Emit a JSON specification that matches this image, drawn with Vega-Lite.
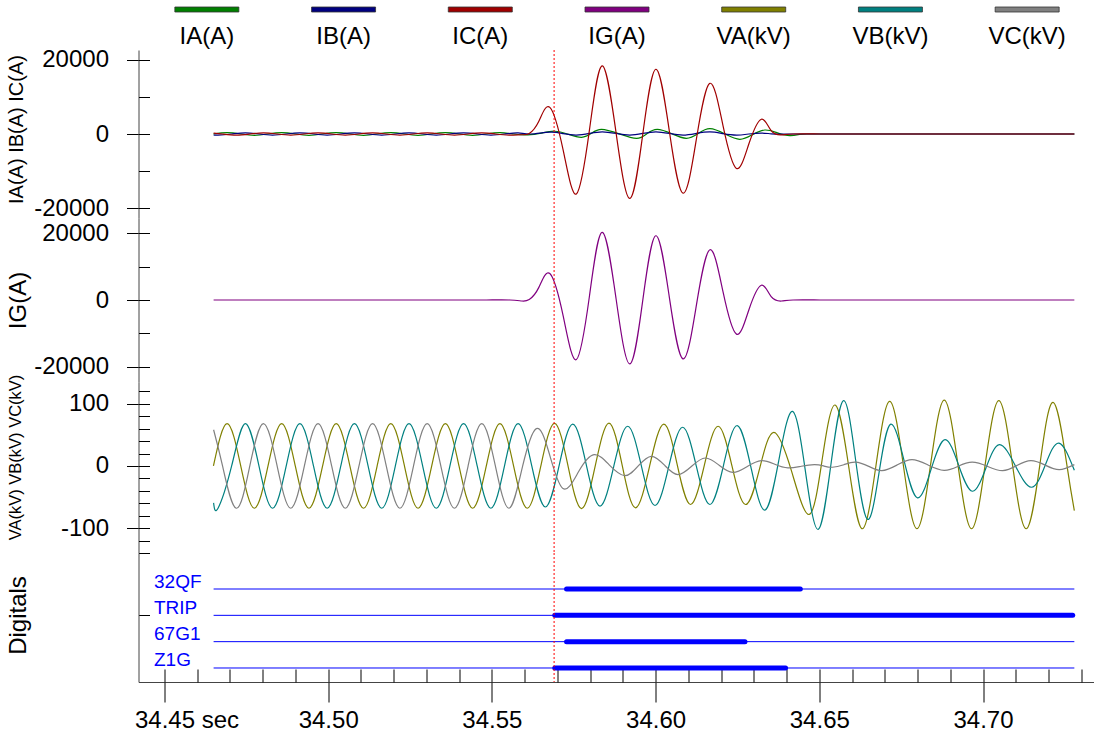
{
"$schema": "https://vega.github.io/schema/vega-lite/v6.json",
"padding": {"left": 6.5, "top": 0, "right": 0, "bottom": 0},
"background": "white",
"bounds": "flush",
"spacing": 0,
"config": {
 "font": "Liberation Sans",
 "view": {"stroke": null},
 "axis": {"grid": false, "labelFontSize": 24, "labelColor": "#000000", "titleColor": "#000000", "titleFontWeight": "normal", "domainColor": "#444444", "domainWidth": 1, "tickColor": "#000000", "tickWidth": 1, "labelOverlap": false, "labelFlush": false}
},
"datasets": {
 "legend": [
  {"s":"IA","label":"IA(A)"},{"s":"IB","label":"IB(A)"},{"s":"IC","label":"IC(A)"},{"s":"IG","label":"IG(A)"},{"s":"VA","label":"VA(kV)"},{"s":"VB","label":"VB(kV)"},{"s":"VC","label":"VC(kV)"}
 ],
 "cursor": [{"t": 34.569}],
 "dig": [
  {"sig":"32QF","first":34.465,"last":34.7279,"on":34.5728,"off":34.6442},
  {"sig":"TRIP","first":34.465,"last":34.7279,"on":34.5692,"off":34.7274},
  {"sig":"67G1","first":34.465,"last":34.7279,"on":34.5728,"off":34.6273},
  {"sig":"Z1G","first":34.465,"last":34.7279,"on":34.5692,"off":34.6397}
 ],
 "cur": [
  {"s":"IA","t":34.46495,"v":0},{"s":"IA","t":34.46912,"v":350},{"s":"IA","t":34.47329,"v":0},{"s":"IA","t":34.47745,"v":-350},{"s":"IA","t":34.48162,"v":0},{"s":"IA","t":34.48579,"v":350},{"s":"IA","t":34.48995,"v":0},{"s":"IA","t":34.49412,"v":-350},{"s":"IA","t":34.49829,"v":0},{"s":"IA","t":34.50245,"v":350},{"s":"IA","t":34.50662,"v":0},{"s":"IA","t":34.51079,"v":-350},{"s":"IA","t":34.51495,"v":0},{"s":"IA","t":34.51912,"v":350},{"s":"IA","t":34.52329,"v":0},{"s":"IA","t":34.52745,"v":-350},{"s":"IA","t":34.53162,"v":0},{"s":"IA","t":34.53579,"v":350},{"s":"IA","t":34.53995,"v":0},{"s":"IA","t":34.54412,"v":-350},{"s":"IA","t":34.54829,"v":0},{"s":"IA","t":34.55245,"v":350},{"s":"IA","t":34.55662,"v":0},{"s":"IA","t":34.561,"v":-250},{"s":"IA","t":34.5651,"v":250},{"s":"IA","t":34.5692,"v":750},{"s":"IA","t":34.5733,"v":-75},{"s":"IA","t":34.5774,"v":-900},{"s":"IA","t":34.5804,"v":185},{"s":"IA","t":34.5835,"v":1270},{"s":"IA","t":34.5889,"v":50},{"s":"IA","t":34.5942,"v":-1170},{"s":"IA","t":34.5973,"v":50},{"s":"IA","t":34.6005,"v":1270},{"s":"IA","t":34.605,"v":50},{"s":"IA","t":34.6094,"v":-1170},{"s":"IA","t":34.613,"v":135},{"s":"IA","t":34.6166,"v":1440},{"s":"IA","t":34.6212,"v":0},{"s":"IA","t":34.6257,"v":-1440},{"s":"IA","t":34.6296,"v":-180},{"s":"IA","t":34.6334,"v":1080},{"s":"IA","t":34.6372,"v":315},{"s":"IA","t":34.641,"v":-450},{"s":"IA","t":34.644,"v":-100},{"s":"IA","t":34.647,"v":0},{"s":"IA","t":34.6553,"v":0},{"s":"IA","t":34.6637,"v":0},{"s":"IA","t":34.672,"v":0},{"s":"IA","t":34.6803,"v":0},{"s":"IA","t":34.6887,"v":0},{"s":"IA","t":34.697,"v":0},{"s":"IA","t":34.7053,"v":0},{"s":"IA","t":34.7137,"v":0},{"s":"IA","t":34.722,"v":0},{"s":"IA","t":34.7279,"v":0},
  {"s":"IB","t":34.465,"v":-262},{"s":"IB","t":34.46635,"v":-300},{"s":"IB","t":34.47051,"v":0},{"s":"IB","t":34.47468,"v":300},{"s":"IB","t":34.47885,"v":0},{"s":"IB","t":34.48301,"v":-300},{"s":"IB","t":34.48718,"v":0},{"s":"IB","t":34.49135,"v":300},{"s":"IB","t":34.49551,"v":0},{"s":"IB","t":34.49968,"v":-300},{"s":"IB","t":34.50385,"v":0},{"s":"IB","t":34.50801,"v":300},{"s":"IB","t":34.51218,"v":0},{"s":"IB","t":34.51635,"v":-300},{"s":"IB","t":34.52051,"v":0},{"s":"IB","t":34.52468,"v":300},{"s":"IB","t":34.52885,"v":0},{"s":"IB","t":34.53301,"v":-300},{"s":"IB","t":34.53718,"v":0},{"s":"IB","t":34.54135,"v":300},{"s":"IB","t":34.54551,"v":0},{"s":"IB","t":34.54968,"v":-300},{"s":"IB","t":34.55385,"v":0},{"s":"IB","t":34.55801,"v":300},{"s":"IB","t":34.5618,"v":0},{"s":"IB","t":34.5677,"v":500},{"s":"IB","t":34.5718,"v":100},{"s":"IB","t":34.5758,"v":-300},{"s":"IB","t":34.5798,"v":150},{"s":"IB","t":34.5837,"v":600},{"s":"IB","t":34.5879,"v":150},{"s":"IB","t":34.5921,"v":-300},{"s":"IB","t":34.5961,"v":150},{"s":"IB","t":34.6001,"v":600},{"s":"IB","t":34.6042,"v":150},{"s":"IB","t":34.6084,"v":-300},{"s":"IB","t":34.6125,"v":150},{"s":"IB","t":34.6166,"v":550},{"s":"IB","t":34.6206,"v":100},{"s":"IB","t":34.6247,"v":-300},{"s":"IB","t":34.6285,"v":0},{"s":"IB","t":34.6323,"v":250},{"s":"IB","t":34.6353,"v":50},{"s":"IB","t":34.6385,"v":-50},{"s":"IB","t":34.642,"v":0},{"s":"IB","t":34.6503,"v":0},{"s":"IB","t":34.6587,"v":0},{"s":"IB","t":34.667,"v":0},{"s":"IB","t":34.6753,"v":0},{"s":"IB","t":34.6837,"v":0},{"s":"IB","t":34.692,"v":0},{"s":"IB","t":34.7003,"v":0},{"s":"IB","t":34.7087,"v":0},{"s":"IB","t":34.717,"v":0},{"s":"IB","t":34.7279,"v":0},
  {"s":"IC","t":34.465,"v":257},{"s":"IC","t":34.46773,"v":0},{"s":"IC","t":34.4719,"v":-300},{"s":"IC","t":34.47606,"v":0},{"s":"IC","t":34.48023,"v":300},{"s":"IC","t":34.4844,"v":0},{"s":"IC","t":34.48856,"v":-300},{"s":"IC","t":34.49273,"v":0},{"s":"IC","t":34.4969,"v":300},{"s":"IC","t":34.50106,"v":0},{"s":"IC","t":34.50523,"v":-300},{"s":"IC","t":34.5094,"v":0},{"s":"IC","t":34.51356,"v":300},{"s":"IC","t":34.51773,"v":0},{"s":"IC","t":34.5219,"v":-300},{"s":"IC","t":34.52606,"v":0},{"s":"IC","t":34.53023,"v":300},{"s":"IC","t":34.5344,"v":0},{"s":"IC","t":34.53856,"v":-300},{"s":"IC","t":34.54273,"v":0},{"s":"IC","t":34.5469,"v":300},{"s":"IC","t":34.55106,"v":0},{"s":"IC","t":34.55523,"v":-300},{"s":"IC","t":34.5592,"v":-200},{"s":"IC","t":34.5614,"v":150},{"s":"IC","t":34.5643,"v":3400},{"s":"IC","t":34.5677,"v":7200},{"s":"IC","t":34.5718,"v":-4500},{"s":"IC","t":34.5758,"v":-16200},{"s":"IC","t":34.5798,"v":1100},{"s":"IC","t":34.5837,"v":18400},{"s":"IC","t":34.5879,"v":500},{"s":"IC","t":34.5921,"v":-17400},{"s":"IC","t":34.5961,"v":50},{"s":"IC","t":34.6001,"v":17500},{"s":"IC","t":34.6042,"v":750},{"s":"IC","t":34.6084,"v":-16000},{"s":"IC","t":34.6125,"v":-1150},{"s":"IC","t":34.6166,"v":13700},{"s":"IC","t":34.6206,"v":2200},{"s":"IC","t":34.6247,"v":-9300},{"s":"IC","t":34.6285,"v":-2650},{"s":"IC","t":34.6323,"v":4000},{"s":"IC","t":34.6353,"v":900},{"s":"IC","t":34.6385,"v":-250},{"s":"IC","t":34.642,"v":0},{"s":"IC","t":34.6503,"v":0},{"s":"IC","t":34.6587,"v":0},{"s":"IC","t":34.667,"v":0},{"s":"IC","t":34.6753,"v":0},{"s":"IC","t":34.6837,"v":0},{"s":"IC","t":34.692,"v":0},{"s":"IC","t":34.7003,"v":0},{"s":"IC","t":34.7087,"v":0},{"s":"IC","t":34.717,"v":0},{"s":"IC","t":34.7279,"v":0}
 ],
 "ig": [
  {"s":"IG","t":34.465,"v":0},{"s":"IG","t":34.4733,"v":0},{"s":"IG","t":34.4817,"v":0},{"s":"IG","t":34.49,"v":0},{"s":"IG","t":34.4983,"v":0},{"s":"IG","t":34.5067,"v":0},{"s":"IG","t":34.515,"v":0},{"s":"IG","t":34.5233,"v":0},{"s":"IG","t":34.5317,"v":0},{"s":"IG","t":34.54,"v":0},{"s":"IG","t":34.5483,"v":0},{"s":"IG","t":34.5555,"v":0},{"s":"IG","t":34.5592,"v":-300},{"s":"IG","t":34.5614,"v":150},{"s":"IG","t":34.5643,"v":3700},{"s":"IG","t":34.5677,"v":7900},{"s":"IG","t":34.5718,"v":-4900},{"s":"IG","t":34.5758,"v":-17800},{"s":"IG","t":34.5798,"v":1200},{"s":"IG","t":34.5837,"v":20200},{"s":"IG","t":34.5879,"v":550},{"s":"IG","t":34.5921,"v":-19100},{"s":"IG","t":34.5961,"v":50},{"s":"IG","t":34.6001,"v":19200},{"s":"IG","t":34.6042,"v":800},{"s":"IG","t":34.6084,"v":-17600},{"s":"IG","t":34.6125,"v":-1300},{"s":"IG","t":34.6166,"v":15000},{"s":"IG","t":34.6206,"v":2400},{"s":"IG","t":34.6247,"v":-10200},{"s":"IG","t":34.6285,"v":-2900},{"s":"IG","t":34.6323,"v":4400},{"s":"IG","t":34.6353,"v":1000},{"s":"IG","t":34.6385,"v":-300},{"s":"IG","t":34.642,"v":0},{"s":"IG","t":34.6503,"v":0},{"s":"IG","t":34.6587,"v":0},{"s":"IG","t":34.667,"v":0},{"s":"IG","t":34.6753,"v":0},{"s":"IG","t":34.6837,"v":0},{"s":"IG","t":34.692,"v":0},{"s":"IG","t":34.7003,"v":0},{"s":"IG","t":34.7087,"v":0},{"s":"IG","t":34.717,"v":0},{"s":"IG","t":34.7279,"v":0}
 ],
 "volt": [
  {"s":"VA","t":34.46495,"v":0},{"s":"VA","t":34.46912,"v":68},{"s":"VA","t":34.47329,"v":0},{"s":"VA","t":34.47745,"v":-68},{"s":"VA","t":34.48162,"v":0},{"s":"VA","t":34.48579,"v":68},{"s":"VA","t":34.48995,"v":0},{"s":"VA","t":34.49412,"v":-68},{"s":"VA","t":34.49829,"v":0},{"s":"VA","t":34.50245,"v":68},{"s":"VA","t":34.50662,"v":0},{"s":"VA","t":34.51079,"v":-68},{"s":"VA","t":34.51495,"v":0},{"s":"VA","t":34.51912,"v":68},{"s":"VA","t":34.52329,"v":0},{"s":"VA","t":34.52745,"v":-68},{"s":"VA","t":34.53162,"v":0},{"s":"VA","t":34.53579,"v":68},{"s":"VA","t":34.53995,"v":0},{"s":"VA","t":34.54412,"v":-68},{"s":"VA","t":34.54829,"v":0},{"s":"VA","t":34.55245,"v":68},{"s":"VA","t":34.55662,"v":0},{"s":"VA","t":34.56079,"v":-68},{"s":"VA","t":34.56495,"v":0},{"s":"VA","t":34.56912,"v":68.5},{"s":"VA","t":34.57325,"v":0},{"s":"VA","t":34.57737,"v":-68.5},{"s":"VA","t":34.58156,"v":0},{"s":"VA","t":34.58574,"v":69},{"s":"VA","t":34.5898,"v":0.8},{"s":"VA","t":34.59386,"v":-67.4},{"s":"VA","t":34.59818,"v":0},{"s":"VA","t":34.6025,"v":67.3},{"s":"VA","t":34.60658,"v":2.6},{"s":"VA","t":34.61066,"v":-62},{"s":"VA","t":34.61488,"v":1},{"s":"VA","t":34.61909,"v":63.8},{"s":"VA","t":34.62328,"v":1},{"s":"VA","t":34.62746,"v":-62},{"s":"VA","t":34.63178,"v":-4},{"s":"VA","t":34.6361,"v":54},{"s":"VA","t":34.6415,"v":-8},{"s":"VA","t":34.64691,"v":-78},{"s":"VA","t":34.65087,"v":10},{"s":"VA","t":34.65483,"v":98},{"s":"VA","t":34.659,"v":-1.5},{"s":"VA","t":34.66316,"v":-101},{"s":"VA","t":34.66733,"v":1.5},{"s":"VA","t":34.6715,"v":104},{"s":"VA","t":34.67566,"v":1.5},{"s":"VA","t":34.67983,"v":-101},{"s":"VA","t":34.684,"v":2.5},{"s":"VA","t":34.68816,"v":106},{"s":"VA","t":34.69233,"v":2.5},{"s":"VA","t":34.6965,"v":-101},{"s":"VA","t":34.70066,"v":2},{"s":"VA","t":34.70483,"v":105},{"s":"VA","t":34.709,"v":2},{"s":"VA","t":34.71316,"v":-101},{"s":"VA","t":34.71733,"v":0.5},{"s":"VA","t":34.7215,"v":102},{"s":"VA","t":34.72566,"v":0},{"s":"VA","t":34.7279,"v":-72},
  {"s":"VB","t":34.465,"v":-59.5},{"s":"VB","t":34.46635,"v":-68},{"s":"VB","t":34.47051,"v":0},{"s":"VB","t":34.47468,"v":68},{"s":"VB","t":34.47885,"v":0},{"s":"VB","t":34.48301,"v":-68},{"s":"VB","t":34.48718,"v":0},{"s":"VB","t":34.49135,"v":68},{"s":"VB","t":34.49551,"v":0},{"s":"VB","t":34.49968,"v":-68},{"s":"VB","t":34.50385,"v":0},{"s":"VB","t":34.50801,"v":68},{"s":"VB","t":34.51218,"v":0},{"s":"VB","t":34.51635,"v":-68},{"s":"VB","t":34.52051,"v":0},{"s":"VB","t":34.52468,"v":68},{"s":"VB","t":34.52885,"v":0},{"s":"VB","t":34.53301,"v":-68},{"s":"VB","t":34.53718,"v":0},{"s":"VB","t":34.54135,"v":68},{"s":"VB","t":34.54551,"v":0},{"s":"VB","t":34.54968,"v":-68},{"s":"VB","t":34.55385,"v":0},{"s":"VB","t":34.55801,"v":68},{"s":"VB","t":34.56218,"v":0},{"s":"VB","t":34.56635,"v":-66},{"s":"VB","t":34.57051,"v":0},{"s":"VB","t":34.57468,"v":67.3},{"s":"VB","t":34.57885,"v":1.4},{"s":"VB","t":34.58302,"v":-64.5},{"s":"VB","t":34.58725,"v":0},{"s":"VB","t":34.59148,"v":63.8},{"s":"VB","t":34.59565,"v":0},{"s":"VB","t":34.59982,"v":-63.6},{"s":"VB","t":34.60404,"v":-0.7},{"s":"VB","t":34.60825,"v":62.2},{"s":"VB","t":34.61242,"v":0},{"s":"VB","t":34.61659,"v":-62},{"s":"VB","t":34.62076,"v":1.5},{"s":"VB","t":34.62493,"v":65},{"s":"VB","t":34.62916,"v":-3},{"s":"VB","t":34.63339,"v":-71},{"s":"VB","t":34.6376,"v":8},{"s":"VB","t":34.64182,"v":87.7},{"s":"VB","t":34.64572,"v":-7},{"s":"VB","t":34.64963,"v":-102},{"s":"VB","t":34.65353,"v":1.5},{"s":"VB","t":34.65742,"v":105},{"s":"VB","t":34.6611,"v":9.5},{"s":"VB","t":34.66478,"v":-86},{"s":"VB","t":34.6683,"v":-9},{"s":"VB","t":34.67183,"v":67.3},{"s":"VB","t":34.67591,"v":8},{"s":"VB","t":34.67999,"v":-51.4},{"s":"VB","t":34.68419,"v":-4.6},{"s":"VB","t":34.68839,"v":42.2},{"s":"VB","t":34.69258,"v":0.8},{"s":"VB","t":34.69676,"v":-40.7},{"s":"VB","t":34.7009,"v":-3.2},{"s":"VB","t":34.70504,"v":34.2},{"s":"VB","t":34.7099,"v":0},{"s":"VB","t":34.7148,"v":-34.3},{"s":"VB","t":34.719,"v":1},{"s":"VB","t":34.7232,"v":36.8},{"s":"VB","t":34.7279,"v":-7},
  {"s":"VC","t":34.465,"v":58.2},{"s":"VC","t":34.46773,"v":0},{"s":"VC","t":34.4719,"v":-68},{"s":"VC","t":34.47606,"v":0},{"s":"VC","t":34.48023,"v":68},{"s":"VC","t":34.4844,"v":0},{"s":"VC","t":34.48856,"v":-68},{"s":"VC","t":34.49273,"v":0},{"s":"VC","t":34.4969,"v":68},{"s":"VC","t":34.50106,"v":0},{"s":"VC","t":34.50523,"v":-68},{"s":"VC","t":34.5094,"v":0},{"s":"VC","t":34.51356,"v":68},{"s":"VC","t":34.51773,"v":0},{"s":"VC","t":34.5219,"v":-68},{"s":"VC","t":34.52606,"v":0},{"s":"VC","t":34.53023,"v":68},{"s":"VC","t":34.5344,"v":0},{"s":"VC","t":34.53856,"v":-68},{"s":"VC","t":34.54273,"v":0},{"s":"VC","t":34.5469,"v":68},{"s":"VC","t":34.55106,"v":0},{"s":"VC","t":34.55523,"v":-68},{"s":"VC","t":34.5594,"v":0},{"s":"VC","t":34.56356,"v":60},{"s":"VC","t":34.5674,"v":22},{"s":"VC","t":34.5717,"v":-36.4},{"s":"VC","t":34.5765,"v":-9},{"s":"VC","t":34.5812,"v":18.2},{"s":"VC","t":34.5859,"v":1.4},{"s":"VC","t":34.5906,"v":-15.5},{"s":"VC","t":34.5947,"v":0},{"s":"VC","t":34.5987,"v":15.5},{"s":"VC","t":34.6028,"v":0.8},{"s":"VC","t":34.6068,"v":-13.9},{"s":"VC","t":34.611,"v":-0.5},{"s":"VC","t":34.6152,"v":12.8},{"s":"VC","t":34.6194,"v":1.2},{"s":"VC","t":34.6236,"v":-10.3},{"s":"VC","t":34.628,"v":-0.8},{"s":"VC","t":34.6323,"v":8.6},{"s":"VC","t":34.6364,"v":2.7},{"s":"VC","t":34.6404,"v":-3.2},{"s":"VC","t":34.6445,"v":-0.5},{"s":"VC","t":34.6485,"v":2.1},{"s":"VC","t":34.6513,"v":0},{"s":"VC","t":34.654,"v":-2.1},{"s":"VC","t":34.6575,"v":2},{"s":"VC","t":34.661,"v":6.1},{"s":"VC","t":34.6651,"v":-0.7},{"s":"VC","t":34.6691,"v":-7.5},{"s":"VC","t":34.6737,"v":1.3},{"s":"VC","t":34.6783,"v":10.2},{"s":"VC","t":34.6832,"v":1.6},{"s":"VC","t":34.6881,"v":-7},{"s":"VC","t":34.6924,"v":-0.5},{"s":"VC","t":34.6967,"v":6.1},{"s":"VC","t":34.7014,"v":-0.7},{"s":"VC","t":34.706,"v":-7.5},{"s":"VC","t":34.7103,"v":0.5},{"s":"VC","t":34.7146,"v":8.6},{"s":"VC","t":34.719,"v":1.3},{"s":"VC","t":34.7233,"v":-6},{"s":"VC","t":34.7279,"v":2.1}
 ]
},
"vconcat": [
 {
  "width": 957, "height": 50,
  "data": {"name": "legend"},
  "layer": [
   {"mark": {"type": "tick", "orient": "horizontal", "size": 64, "thickness": 5, "yOffset": -15.5, "stroke": "#333333", "strokeWidth": 0.8, "opacity": 1},
    "encoding": {
     "x": {"field": "label", "type": "nominal", "sort": null, "scale": {"type": "band", "paddingInner": 0, "paddingOuter": 0}, "axis": null},
     "color": {"field": "s", "type": "nominal", "scale": {"domain": ["IA","IB","IC","IG","VA","VB","VC"], "range": ["#008000","#000080","#a00000","#800080","#808000","#008080","#808080"]}, "legend": null}
    }},
   {"mark": {"type": "text", "fontSize": 24, "baseline": "middle", "yOffset": 12, "color": "#000000"},
    "encoding": {
     "x": {"field": "label", "type": "nominal", "sort": null, "axis": null},
     "text": {"field": "label"}
    }}
  ]
 },
 {
  "width": 957, "height": 168,
  "data": {"name": "cur"},
  "layer": [
   {"mark": {"type": "line", "interpolate": "natural", "strokeWidth": 1.2},
    "encoding": {
     "x": {"field": "t", "type": "quantitative", "scale": {"domain": [34.44206, 34.73436], "nice": false, "zero": false}, "axis": {"orient": "top", "labels": false, "ticks": false, "domain": true, "title": null}},
     "y": {"field": "v", "type": "quantitative", "scale": {"domain": [-22700, 22700], "nice": false, "zero": false}, "axis": {"orient": "left", "values": [-20000, 0, 20000], "labelExpr": "'' + datum.value", "tickSize": 12, "labelPadding": 18, "title": "IA(A) IB(A) IC(A)", "titleFontSize": 20, "titleX": -122, "titleY": 79, "titleAngle": 270, "titleAlign": "center", "titleBaseline": "middle"}},
     "color": {"field": "s", "type": "nominal", "scale": {"domain": ["IA","IB","IC","IG","VA","VB","VC"], "range": ["#008000","#000080","#a00000","#800080","#808000","#008080","#808080"]}, "legend": null}
    }},
   {"mark": {"type": "line", "opacity": 0},
    "encoding": {
     "x": {"field": "t", "type": "quantitative", "scale": {"domain": [34.44206, 34.73436], "nice": false, "zero": false}, "axis": null},
     "y": {"field": "v", "type": "quantitative", "scale": {"domain": [-22700, 22700], "nice": false, "zero": false}, "axis": {"orient": "left", "values": [-20000, -10000, 0, 10000, 20000], "tickSize": -11, "labels": false, "domain": false, "title": null}},
     "detail": {"field": "s", "type": "nominal"}
    }},
   {"data": {"name": "cursor"}, "mark": {"type": "rule", "color": "#ff0000", "strokeDash": [2, 2], "strokeWidth": 1},
    "encoding": {"x": {"field": "t", "type": "quantitative", "scale": {"domain": [34.44206, 34.73436], "nice": false, "zero": false}, "axis": null}}}
  ],
  "resolve": {"axis": {"y": "independent"}}
 },
 {
  "width": 957, "height": 164,
  "data": {"name": "ig"},
  "layer": [
   {"mark": {"type": "line", "interpolate": "natural", "strokeWidth": 1.2},
    "encoding": {
     "x": {"field": "t", "type": "quantitative", "scale": {"domain": [34.44206, 34.73436], "nice": false, "zero": false}, "axis": null},
     "y": {"field": "v", "type": "quantitative", "scale": {"domain": [-24500, 24500], "nice": false, "zero": false}, "axis": {"orient": "left", "values": [-20000, 0, 20000], "labelExpr": "'' + datum.value", "tickSize": 12, "labelPadding": 18, "title": "IG(A)", "titleFontSize": 24, "titleX": -120, "titleY": 82, "titleAngle": 270, "titleAlign": "center", "titleBaseline": "middle"}},
     "color": {"field": "s", "type": "nominal", "scale": {"domain": ["IA","IB","IC","IG","VA","VB","VC"], "range": ["#008000","#000080","#a00000","#800080","#808000","#008080","#808080"]}, "legend": null}
    }},
   {"mark": {"type": "line", "opacity": 0},
    "encoding": {
     "x": {"field": "t", "type": "quantitative", "scale": {"domain": [34.44206, 34.73436], "nice": false, "zero": false}, "axis": null},
     "y": {"field": "v", "type": "quantitative", "scale": {"domain": [-24500, 24500], "nice": false, "zero": false}, "axis": {"orient": "left", "values": [-20000, -10000, 0, 10000, 20000], "tickSize": -11, "labels": false, "domain": false, "title": null}}
    }},
   {"data": {"name": "cursor"}, "mark": {"type": "rule", "color": "#ff0000", "strokeDash": [2, 2], "strokeWidth": 1},
    "encoding": {"x": {"field": "t", "type": "quantitative", "scale": {"domain": [34.44206, 34.73436], "nice": false, "zero": false}, "axis": null}}}
  ],
  "resolve": {"axis": {"y": "independent"}}
 },
 {
  "width": 957, "height": 171,
  "data": {"name": "volt"},
  "layer": [
   {"mark": {"type": "line", "interpolate": "natural", "strokeWidth": 1.2},
    "encoding": {
     "x": {"field": "t", "type": "quantitative", "scale": {"domain": [34.44206, 34.73436], "nice": false, "zero": false}, "axis": null},
     "y": {"field": "v", "type": "quantitative", "scale": {"domain": [-140, 135], "nice": false, "zero": false}, "axis": {"orient": "left", "values": [-100, 0, 100], "labelExpr": "'' + datum.value", "tickSize": 12, "labelPadding": 18, "title": "VA(kV) VB(kV) VC(kV)", "titleFontSize": 16.5, "titleX": -123, "titleY": 75, "titleAngle": 270, "titleAlign": "center", "titleBaseline": "middle"}},
     "color": {"field": "s", "type": "nominal", "scale": {"domain": ["IA","IB","IC","IG","VA","VB","VC"], "range": ["#008000","#000080","#a00000","#800080","#808000","#008080","#808080"]}, "legend": null}
    }},
   {"mark": {"type": "line", "opacity": 0},
    "encoding": {
     "x": {"field": "t", "type": "quantitative", "scale": {"domain": [34.44206, 34.73436], "nice": false, "zero": false}, "axis": null},
     "y": {"field": "v", "type": "quantitative", "scale": {"domain": [-140, 135], "nice": false, "zero": false}, "axis": {"orient": "left", "values": [-140, -120, -100, -80, -60, -40, -20, 0, 20, 40, 60, 80, 100, 120], "tickSize": -11, "labels": false, "domain": false, "title": null}},
     "detail": {"field": "s", "type": "nominal"}
    }},
   {"data": {"name": "cursor"}, "mark": {"type": "rule", "color": "#ff0000", "strokeDash": [2, 2], "strokeWidth": 1},
    "encoding": {"x": {"field": "t", "type": "quantitative", "scale": {"domain": [34.44206, 34.73436], "nice": false, "zero": false}, "axis": null}}}
  ],
  "resolve": {"axis": {"y": "independent"}}
 },
 {
  "width": 957, "height": 129,
  "data": {"name": "dig"},
  "layer": [
   {"mark": {"type": "rule", "color": "#0000ff", "strokeWidth": 1},
    "encoding": {
     "x": {"field": "first", "type": "quantitative", "scale": {"domain": [34.44206, 34.73436], "nice": false, "zero": false}, "axis": {"orient": "bottom", "values": [34.45, 34.5, 34.55, 34.6, 34.65, 34.7], "labelExpr": "datum.value < 34.46 ? '34.45 sec' : format(datum.value, '.2f')", "labelOffset": {"condition": {"test": "datum.value < 34.46", "value": 22}, "value": 0}, "tickSize": 20, "labelPadding": 6, "title": null, "domain": true}},
     "x2": {"field": "last"},
     "y": {"field": "sig", "type": "nominal", "sort": null, "scale": {"type": "point", "domain": ["32QF", "TRIP", "67G1", "Z1G"], "padding": 0.95, "align": 0.72}, "axis": {"orient": "left", "values": ["TRIP"], "tickSize": -11, "labels": false, "domain": true, "title": "Digitals", "titleFontSize": 24, "titleX": -120, "titleY": 62, "titleAngle": 270, "titleAlign": "center", "titleBaseline": "middle"}}
    }},
   {"mark": {"type": "rule", "color": "#0000ff", "strokeWidth": 5, "strokeCap": "round"},
    "encoding": {
     "x": {"field": "on", "type": "quantitative", "scale": {"domain": [34.44206, 34.73436], "nice": false, "zero": false}, "axis": {"orient": "bottom", "values": [34.45, 34.46, 34.47, 34.48, 34.49, 34.5, 34.51, 34.52, 34.53, 34.54, 34.55, 34.56, 34.57, 34.58, 34.59, 34.6, 34.61, 34.62, 34.63, 34.64, 34.65, 34.66, 34.67, 34.68, 34.69, 34.7, 34.71, 34.72, 34.73], "tickSize": -13, "labels": false, "domain": false, "title": null}},
     "x2": {"field": "off"},
     "y": {"field": "sig", "type": "nominal", "sort": null, "scale": {"type": "point", "domain": ["32QF", "TRIP", "67G1", "Z1G"], "padding": 0.95, "align": 0.72}, "axis": {"orient": "left", "labelAlign": "left", "labelPadding": -15, "ticks": false, "tickSize": 0, "domain": false, "labelColor": "#0000ff", "labelFontSize": 19, "labelBaseline": "alphabetic", "labelOffset": -2, "title": null}}
    }},
   {"data": {"name": "cursor"}, "mark": {"type": "rule", "color": "#ff0000", "strokeDash": [2, 2], "strokeWidth": 1},
    "encoding": {"x": {"field": "t", "type": "quantitative", "scale": {"domain": [34.44206, 34.73436], "nice": false, "zero": false}, "axis": null}}}
  ],
  "resolve": {"axis": {"x": "independent", "y": "independent"}}
 }
]
}
